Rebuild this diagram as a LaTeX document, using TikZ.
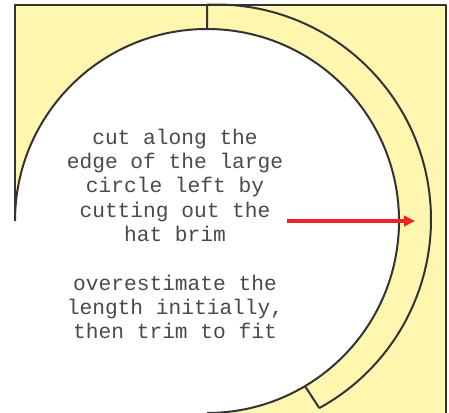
\documentclass[tikz,border=0pt]{standalone}
\usepackage{fontspec}
\setmonofont{Liberation Mono}
\usetikzlibrary{arrows.meta}
\definecolor{paper}{HTML}{FFF7B0}
\definecolor{edge}{HTML}{333333}
\definecolor{cutred}{HTML}{EE2222}
\definecolor{inkgrey}{HTML}{4A4A4A}
\tikzset{
  outline/.style={draw=edge,line width=1pt,line join=round},
  note_text/.style={font=\ttfamily\fontsize{10.6}{12.15}\selectfont,text=inkgrey,
    align=center,inner sep=0pt},
  arr/.style={-{Triangle[length=5.5pt,width=5.2pt]},draw=cutred,line width=1.65pt},
}
\begin{document}
\begin{tikzpicture}[x=0.5pt,y=0.5pt]
    \useasboundingbox (0,0) rectangle (449,412);
    \coordinate (c1) at (207,191);    % large circle
    \coordinate (c2) at (216,192.5);  % outer edge of the brim strip
    \coordinate (corner_tl) at (15,407);
    \coordinate (corner_tr) at (445.5,407);
    \coordinate (corner_br) at (445.5,-10);
    \coordinate (left_mid) at (15,191);
    \coordinate (brim_top) at ([shift={(92.4:215)}]c2);
    \coordinate (brim_in) at (207,383);
    \coordinate (brim_end) at ([shift={(-61.3:215)}]c2);
    \coordinate (cut_in) at ([shift={(-59.3:192)}]c1);

    \begin{scope}
      \clip (0,0) rectangle (449,412);
      % paper left over
      \fill[paper] (left_mid) -- (corner_tl) -- (corner_tr) -- (corner_br) -- (207,-10) -- cycle;
      \fill[white] (c1) circle[radius=192];
      \draw[outline] (left_mid) -- (corner_tl) -- (corner_tr) -- (corner_br);
      \draw[outline] (left_mid) arc[start angle=180,end angle=-90,radius=192];
      % brim strip
      \draw[outline] (brim_top) arc[start angle=92.4,end angle=-61.3,radius=215];
      \draw[outline] (brim_top) -- (brim_in);
      \draw[outline] (cut_in) -- (brim_end);
    \end{scope}

    \node[note_text] (note) at (175,178) {cut along the\\edge of the large\\circle left by\\cutting out the\\hat brim\\[12.15pt]overestimate the\\length initially,\\then trim to fit};
    \coordinate (arr_start) at (287,191);
    \coordinate (arr_end) at (415,191);
    \draw[arr] (arr_start) -- (arr_end);
\end{tikzpicture}
\end{document}
